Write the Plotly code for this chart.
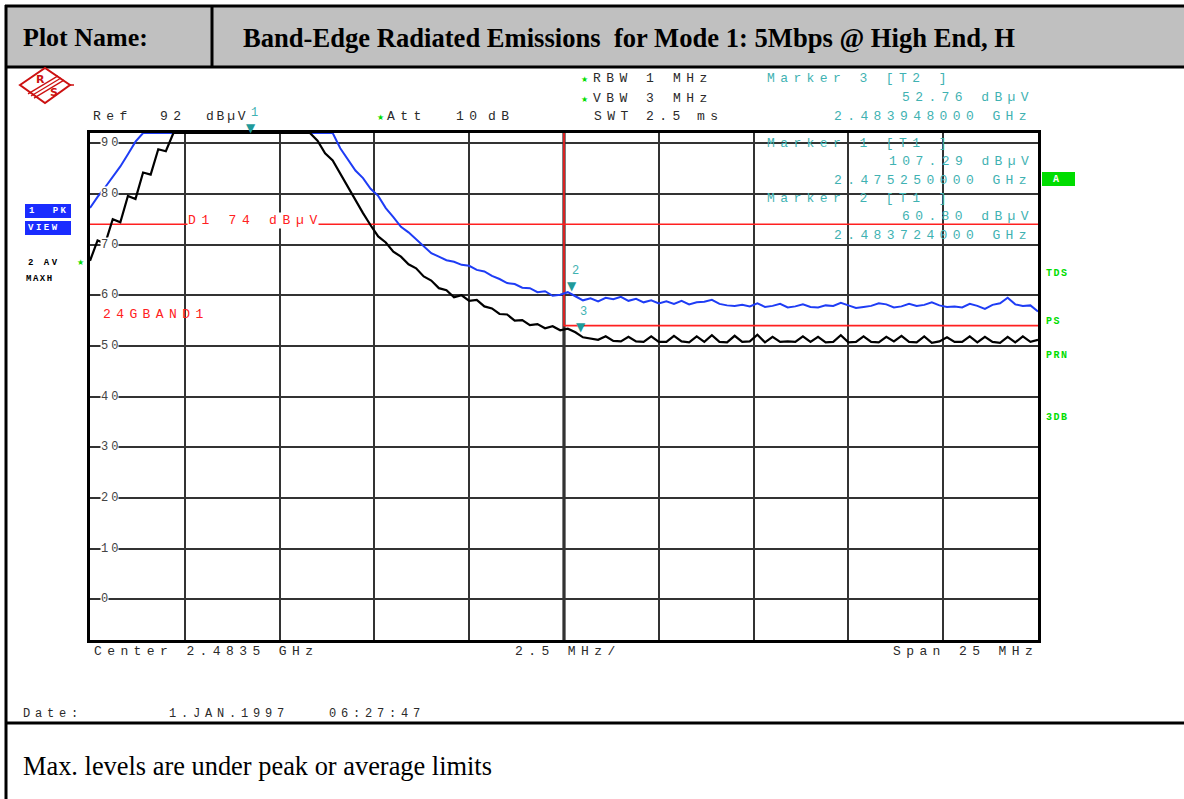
import numpy as np
import plotly.graph_objects as go

# ---------------- data ----------------
CENTER_GHZ = 2.4835
SPAN_GHZ = 0.025
F_START = CENTER_GHZ - SPAN_GHZ / 2
F_STOP = CENTER_GHZ + SPAN_GHZ / 2
REF_LEVEL = 92
BOTTOM_LEVEL = -8
N_POINTS = 126

# Trace 1: peak (PK VIEW), dBuV
TRACE1_PK = [
    77.2, 79.4, 81.3, 83.3, 85.4, 87.8, 90.3, 92, 92, 92,
    92, 92, 92, 92, 92, 92, 92, 92, 92, 92,
    92, 92, 92, 92, 92, 92, 92, 92, 92, 92,
    92, 92, 92, 89.0, 86.9, 84.6, 83.1, 81.0, 79.6, 77.2,
    75.4, 73.5, 72.4, 71.0, 69.7, 68.3, 67.6, 66.9, 66.6, 66.0,
    65.8, 65.0, 64.7, 63.8, 63.2, 62.4, 62.2, 61.5, 61.4, 60.6,
    60.8, 59.9, 60.1, 60.6, 59.8, 59.0, 59.4, 58.8, 59.5, 59.2,
    59.7, 58.9, 59.3, 58.6, 59.0, 58.4, 58.8, 58.3, 58.9, 58.2,
    58.6, 58.7, 59.1, 58.3, 58.0, 57.9, 58.1, 57.8, 58.4, 57.7,
    57.9, 58.3, 57.6, 57.8, 58.2, 57.7, 57.6, 58.0, 57.9, 58.5,
    58.0, 57.5, 57.7, 57.9, 58.4, 58.2, 57.6, 57.8, 58.3, 57.9,
    58.1, 58.6, 58.0, 57.7, 57.8, 57.6, 58.3, 57.9, 57.3, 58.1,
    58.4, 59.5, 58.2, 57.9, 58.0, 56.8,
]

# Trace 2: average (AV MAXH), dBuV
TRACE2_AV = [
    66.8, 70.8, 70.2, 75.0, 74.4, 79.6, 79.0, 84.2, 83.8, 88.8,
    88.4, 92, 92, 92, 92, 92, 92, 92, 92, 92,
    92, 92, 92, 92, 92, 92, 92, 92, 92, 92,
    90.5, 88.0, 86.6, 84.0, 81.2, 78.6, 76.2, 73.8, 71.6, 70.4,
    68.6, 67.6, 66.1, 65.3, 63.7, 62.9, 61.4, 61.0, 59.6, 60.0,
    58.9, 59.1, 57.8, 57.4, 56.3, 56.2, 55.0, 55.1, 54.1, 54.3,
    53.5, 53.9, 53.1, 53.4, 52.7, 51.7, 51.4, 51.2, 51.9, 51.0,
    50.9, 51.8, 50.9, 50.8, 51.9, 50.8, 50.8, 52.0, 50.9, 50.7,
    51.9, 50.8, 52.1, 50.8, 50.7, 52.0, 50.8, 50.9, 52.2, 50.7,
    51.8, 50.8, 50.9, 50.8, 51.9, 50.8, 51.8, 50.7, 50.8, 52.1,
    50.7, 50.8, 51.9, 50.8, 50.7, 51.8, 50.9, 52.0, 50.8, 50.7,
    51.9, 50.6, 50.9, 51.7, 50.8, 50.8, 51.9, 50.7, 51.8, 50.8,
    50.6, 51.8, 50.7, 51.9, 50.8, 51.2,
]

# Display line D1 and limit line 24GBAND1
D1_LEVEL = 74
LIMIT_FREQ = [2.4835, 2.4835, 2.496]
LIMIT_LEVEL = [120, 54, 54]

# Markers
MARKER_IDS = ["1", "2", "3"]
MARKER_FREQ = [2.475250, 2.483724, 2.483948]
MARKER_LEVEL = [107.29, 60.80, 52.76]
MARKER_TRACE = ["T1", "T1", "T2"]

Y_TICKS = [0, 10, 20, 30, 40, 50, 60, 70, 80, 90]

assert len(TRACE1_PK) == N_POINTS and len(TRACE2_AV) == N_POINTS
freqs = np.linspace(F_START, F_STOP, N_POINTS)

# ---------------- geometry helpers (pixel -> paper) ----------------
W, H = 1184, 799
PL, PR, PT, PB = 90, 1038, 133, 640
PW, PH = PR - PL, PB - PT


def X(px):
    return (px - PL) / PW


def Y(py):
    return (PB - py) / PH


MONO = "Liberation Mono"
SERIF = "Liberation Serif"
TEAL = "#3fb2b2"
TEAL_D = "#1f9a9a"
RED = "#ff2020"
GREEN = "#00dd00"
TXT = "#2a2a2a"

fig = go.Figure()

# limit lines
fig.add_trace(go.Scatter(x=[F_START, F_STOP], y=[D1_LEVEL, D1_LEVEL], mode="lines",
                         line=dict(color=RED, width=1.3), hoverinfo="skip"))
fig.add_trace(go.Scatter(x=LIMIT_FREQ, y=LIMIT_LEVEL, mode="lines",
                         line=dict(color=RED, width=1.6), hoverinfo="skip"))
# traces
fig.add_trace(go.Scatter(x=freqs, y=TRACE1_PK, mode="lines",
                         line=dict(color="#1e3cf5", width=2), name="1 PK VIEW"))
fig.add_trace(go.Scatter(x=freqs, y=TRACE2_AV, mode="lines",
                         line=dict(color="#000000", width=2.2), name="2 AV MAXH"))

ann = []


def spaced(text, ls):
    # letter spacing on all but the last glyph (no trailing gap)
    if len(text) < 2:
        return text
    return f"<span style='letter-spacing:{ls}px'>{text[:-1]}</span>{text[-1]}"


def T(px, py, text, color=TXT, size=13, family=MONO, ls=None, xanchor="left",
      bg=None, yref="paper", bold=False):
    if ls is not None:
        text = spaced(text, ls)
    if bold:
        text = f"<b>{text}</b>"
    d = dict(x=X(px), y=(Y(py) if yref == "paper" else py), xref="paper", yref=yref,
             xanchor=xanchor, yanchor="middle", showarrow=False, text=text,
             font=dict(family=family, size=size, color=color), borderpad=0)
    if bg:
        d["bgcolor"] = bg
    ann.append(d)


LS = 5.4  # letter spacing for 13px mono -> ~13.2 px advance

# header texts
T(22, 38, "Plot Name:", "#000", 26, SERIF, bold=True)
T(242, 38, "Band-Edge Radiated Emissions  for Mode 1: 5Mbps @ High End, H", "#000", 26.6, SERIF, bold=True)
T(22, 766, "Max. levels are under peak or average limits", "#000", 26.4, SERIF)

# instrument settings
T(92, 116, "Ref", ls=LS)
T(159, 116, "92", ls=LS)
T(205, 116, "dBµV", ls=2.8)
T(376, 117, "★", GREEN, 8, "DejaVu Sans")
T(386, 116, "Att", ls=LS)
T(455, 116, "10", ls=LS)
T(487, 116, "dB", ls=LS)
T(580, 80, "★", GREEN, 8, "DejaVu Sans")
T(592, 79, "RBW", ls=LS)
T(645, 79, "1", ls=LS)
T(672, 79, "MHz", ls=LS)
T(580, 99, "★", GREEN, 8, "DejaVu Sans")
T(592, 98, "VBW", ls=LS)
T(645, 98, "3", ls=LS)
T(672, 98, "MHz", ls=LS)
T(593, 116, "SWT", ls=LS)
T(645, 116, "2.5", ls=LS)
T(696, 116, "ms", ls=LS)

# marker readouts
order = [2, 0, 1]
rows = [79, 143, 198]
for k, row in zip(order, rows):
    T(766, row, f"Marker {MARKER_IDS[k]} [{MARKER_TRACE[k]} ]", TEAL, ls=LS)
    lvl = f"{MARKER_LEVEL[k]:.2f} dBµV"
    T(1028 - len(lvl) * 13.2 + 5, row + 18.5, lvl, TEAL, ls=LS)
    T(833, row + 37, f"{MARKER_FREQ[k]:.9f} GHz", TEAL, ls=LS)

# bottom axis info
T(93, 651, f"Center {CENTER_GHZ} GHz", ls=LS)
T(514, 651, f"{SPAN_GHZ * 1000 / 10:g} MHz/", ls=LS)
T(892, 651, f"Span {SPAN_GHZ * 1000:g} MHz", ls=LS)
T(22, 714, "Date:", size=12, ls=4.8)
T(168, 714, "1.JAN.1997", size=12, ls=4.8)
T(328, 714, "06:27:47", size=12, ls=4.8)

# y tick labels inside the grid
for v in Y_TICKS:
    T(100, v, f"{v}", "#444", 12, MONO, ls=3.0, bg="white", yref="y")

# display line labels
T(187, 220, "D1 74 dBµV", RED, ls=5.7, bg="white")
T(102, 314, "24GBAND1", RED, ls=LS)

# left side softkey labels
T(28, 211, "1  PK", "white", 9, MONO, ls=2.5, bold=True)
T(27, 228, "VIEW", "white", 9, MONO, ls=2.5, bold=True)
T(27, 263, "2 AV", "#000", 9, MONO, ls=2.5, bold=True)
T(76, 262, "★", GREEN, 8, "DejaVu Sans")
T(25, 279, "MAXH", "#000", 9, MONO, ls=1.5, bold=True)

# right side labels
T(1052, 179, "A", "white", 10, MONO, bold=True)
T(1045, 273, "TDS", GREEN, 10, MONO, ls=1.5, bold=True)
T(1045, 321, "PS", GREEN, 10, MONO, ls=1.5, bold=True)
T(1045, 355, "PRN", GREEN, 10, MONO, ls=1.5, bold=True)
T(1045, 417, "3DB", GREEN, 10, MONO, ls=1.5, bold=True)

# marker symbols on the traces
for mid, mf, ml in zip(MARKER_IDS, MARKER_FREQ, MARKER_LEVEL):
    yv = min(ml, REF_LEVEL)
    ann.append(dict(x=mf, y=yv, xref="x", yref="y", xanchor="center", yanchor="bottom",
                    showarrow=False, text="▼", font=dict(family="DejaVu Sans", size=12, color=TEAL_D),
                    borderpad=0, yshift=-3))
    ann.append(dict(x=mf, y=yv, xref="x", yref="y", xanchor="center", yanchor="middle",
                    showarrow=False, text=mid, font=dict(family=MONO, size=12, color=TEAL),
                    borderpad=0, yshift=20, xshift=3))

# ---------------- shapes: table frame and logo ----------------
shapes = []


def L(x0, y0, x1, y1, color="#000", width=3):
    shapes.append(dict(type="line", xref="paper", yref="paper", x0=X(x0), y0=Y(y0),
                       x1=X(x1), y1=Y(y1), line=dict(color=color, width=width)))


shapes.append(dict(type="rect", xref="paper", yref="paper", x0=X(6), x1=X(1190), y0=Y(6), y1=Y(67),
                   fillcolor="#c0c0c0", line=dict(width=0), layer="below"))
L(5, 6, 1190, 6)
L(6, 5, 6, 805)
L(5, 67, 1190, 67)
L(212, 6, 212, 67)
L(5, 723, 1190, 723)

# soft key boxes
for (x0, y0, x1, y1, c) in [(25, 204, 71, 218, "#1a2cff"), (25, 221, 71, 235, "#1a2cff"),
                            (1042, 172, 1075, 186, GREEN)]:
    shapes.append(dict(type="rect", xref="paper", yref="paper", x0=X(x0), x1=X(x1),
                       y0=Y(y0), y1=Y(y1), fillcolor=c, line=dict(width=0), layer="below"))

# R&S logo
LR = "#cc1111"
pts = [(20, 85), (45, 68), (70, 85), (45, 103)]
path = "M " + " L ".join(f"{X(a)},{Y(b)}" for a, b in pts) + " Z"
shapes.append(dict(type="path", xref="paper", yref="paper", path=path, line=dict(color=LR, width=2)))
for off in (-3, 0, 3):
    L(61 + off, 78 + off * 0.7, 31 + off, 96 + off * 0.7, LR, 1.3)
L(70, 85, 74, 85, LR, 1.5)
T(40, 80, "R", LR, 11, "DejaVu Sans", xanchor="center", bold=True)
T(54, 92, "S", LR, 11, "DejaVu Sans", xanchor="center", bold=True)

# centre graticule line (thicker)
shapes.append(dict(type="line", xref="x", yref="paper", x0=CENTER_GHZ, x1=CENTER_GHZ, y0=0, y1=1,
                   line=dict(color="#000", width=3), layer="below"))

fig.update_layout(
    width=W, height=H,
    margin=dict(l=PL, r=W - PR, t=PT, b=H - PB, autoexpand=False),
    paper_bgcolor="white", plot_bgcolor="white",
    showlegend=False,
    annotations=ann, shapes=shapes,
    xaxis=dict(range=[F_START, F_STOP], tick0=F_START, dtick=SPAN_GHZ / 10,
               showgrid=True, gridcolor="#333", gridwidth=1.5, zeroline=False,
               showticklabels=False, ticks="", showline=True, mirror=True,
               linecolor="#000", linewidth=3),
    yaxis=dict(range=[BOTTOM_LEVEL, REF_LEVEL], tick0=0, dtick=10,
               showgrid=True, gridcolor="#333", gridwidth=1.5, zeroline=False,
               showticklabels=False, ticks="", showline=True, mirror=True,
               linecolor="#000", linewidth=3),
    hovermode=False,
)

fig.write_html("out.html", config={"displayModeBar": False},
               post_script="document.body.style.margin='0px';document.body.style.overflow='hidden';")
